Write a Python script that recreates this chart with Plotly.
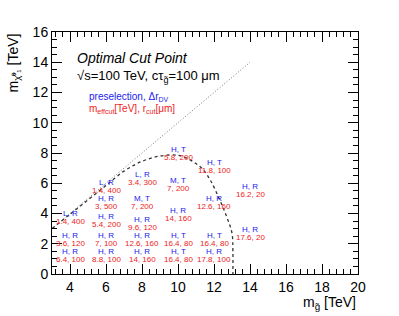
import plotly.graph_objects as go

# Label anchor positions (gluino mass, neutralino mass) and label texts
lab_x = [4, 4, 4,
         6, 6, 6, 6, 6,
         8, 8, 8, 8, 8,
         10, 10, 10, 10, 10,
         12, 12, 12, 12,
         14, 14]
lab_y = [4.03, 2.53, 1.47,
         6.04, 5.0, 3.83, 2.53, 1.47,
         6.55, 4.96, 3.62, 2.53, 1.47,
         8.23, 6.17, 4.19, 2.53, 1.47,
         7.39, 4.96, 2.53, 1.47,
         5.77, 2.91]
presel = ["L, R", "H, R", "H, R",
          "L, R", "H, R", "H, R", "H, R", "H, R",
          "L, R", "M, T", "H, R", "H, R", "H, R",
          "H, T", "M, T", "H, R", "H, T", "H, T",
          "H, T", "H, R", "H, T", "H, R",
          "H, R", "H, R"]
cuts = ["1.4, 400", "3.6, 120", "6.4, 100",
        "1.4, 400", "3, 500", "5.4, 200", "7, 100", "8.8, 100",
        "3.4, 300", "7, 200", "9.6, 120", "12.6, 160", "14, 160",
        "5.8, 200", "7, 200", "14, 160", "16.4, 80", "16.4, 80",
        "11.8, 100", "12.6, 160", "16.4, 80", "17.8, 100",
        "16.2, 20", "17.6, 20"]

# m_gluino = m_neutralino line
diag_x = [3, 14]
diag_y = [3, 14]

# Contour (dashed)
cont_x = [3, 4, 5, 6, 7, 8, 9, 10, 10.5, 11, 11.4, 11.8, 12.3, 12.7, 13.0, 13.05, 13.05]
cont_y = [3, 3.95, 4.9, 5.85, 6.8, 7.45, 7.8, 7.85, 7.65, 7.3, 6.9, 6.2, 4.95, 3.8, 2.7, 1.5, 0]

FONT = "Liberation Sans, Arial, Helvetica, sans-serif"
BLUE = "#2222ee"
RED = "#ee2222"

fig = go.Figure()
fig.add_trace(go.Scatter(x=diag_x, y=diag_y, mode="lines",
                         line=dict(color="#777777", width=1, dash="1px,2px"),
                         hoverinfo="skip", showlegend=False))
fig.add_trace(go.Scatter(x=cont_x, y=cont_y, mode="lines", line_shape="spline",
                         line=dict(color="#333333", width=1.3, dash="3px,3px"),
                         hoverinfo="skip", showlegend=False))

annotations = []
for x, y, b, r in zip(lab_x, lab_y, presel, cuts):
    annotations.append(dict(x=x, y=y, xref="x", yref="y", text=b, showarrow=False,
                            xanchor="center", yanchor="middle",
                            font=dict(family=FONT, size=8, color=BLUE)))
    annotations.append(dict(x=x, y=y, xref="x", yref="y", text=r, showarrow=False,
                            xanchor="center", yanchor="middle", yshift=-8,
                            font=dict(family=FONT, size=8, color=RED)))

W, H = 399, 316
L, R, T, B = 52, 41, 32, 42
pw, ph = W - L - R, H - T - B


def px(xp):
    return (xp - L) / pw


def py(yp):
    return (H - yp - B) / ph


# Header texts
annotations += [
    dict(x=px(75), y=py(57.7), xref="paper", yref="paper", text="<i>Optimal Cut Point</i>",
         showarrow=False, xanchor="left", yanchor="middle",
         font=dict(family=FONT, size=14, color="black")),
    dict(x=px(75), y=py(76.7), xref="paper", yref="paper",
         text="√s=100 TeV, cτ<sub>g̃</sub>=100 μm",
         showarrow=False, xanchor="left", yanchor="middle",
         font=dict(family=FONT, size=13, color="black")),
    dict(x=px(87), y=py(97.3), xref="paper", yref="paper",
         text="preselection, Δr<sub>DV</sub>",
         showarrow=False, xanchor="left", yanchor="middle",
         font=dict(family=FONT, size=10, color=BLUE)),
    dict(x=px(87), y=py(108.5), xref="paper", yref="paper",
         text="m<sub>effcut</sub>[TeV], r<sub>cut</sub>[μm]",
         showarrow=False, xanchor="left", yanchor="middle",
         font=dict(family=FONT, size=10, color=RED)),
    # Axis titles
    dict(x=px(13), y=1.0, xref="paper", yref="paper",
         text="m<sub>χ̃⁰₁</sub> [TeV]", textangle=-90, showarrow=False,
         xanchor="center", yanchor="top",
         font=dict(family=FONT, size=14, color="black")),
    dict(x=1.0, y=py(302.5), xref="paper", yref="paper",
         text="m<sub>g̃</sub> [TeV]", showarrow=False,
         xanchor="right", yanchor="middle",
         font=dict(family=FONT, size=14, color="black")),
]

axis_common = dict(showline=True, linecolor="black", linewidth=1, mirror="allticks",
                   ticks="inside", ticklen=10, tickcolor="black", showgrid=False,
                   zeroline=False, automargin=False,
                   tickfont=dict(family=FONT, size=14, color="black"))

fig.update_layout(
    width=W, height=H,
    margin=dict(l=L, r=R, t=T, b=B, pad=0),
    paper_bgcolor="white", plot_bgcolor="white",
    xaxis=dict(range=[3, 20], dtick=2, tick0=0,
               minor=dict(dtick=0.4, tick0=0, ticklen=5, ticks="inside", tickcolor="black"),
               **axis_common),
    yaxis=dict(range=[0, 16], dtick=2, tick0=0,
               minor=dict(dtick=0.5, tick0=0, ticklen=5, ticks="inside", tickcolor="black"),
               **axis_common),
    annotations=annotations,
    showlegend=False,
)

fig.write_html("out.html", config={"displayModeBar": False},
               post_script="document.body.style.margin='0';document.body.style.padding='0';")
